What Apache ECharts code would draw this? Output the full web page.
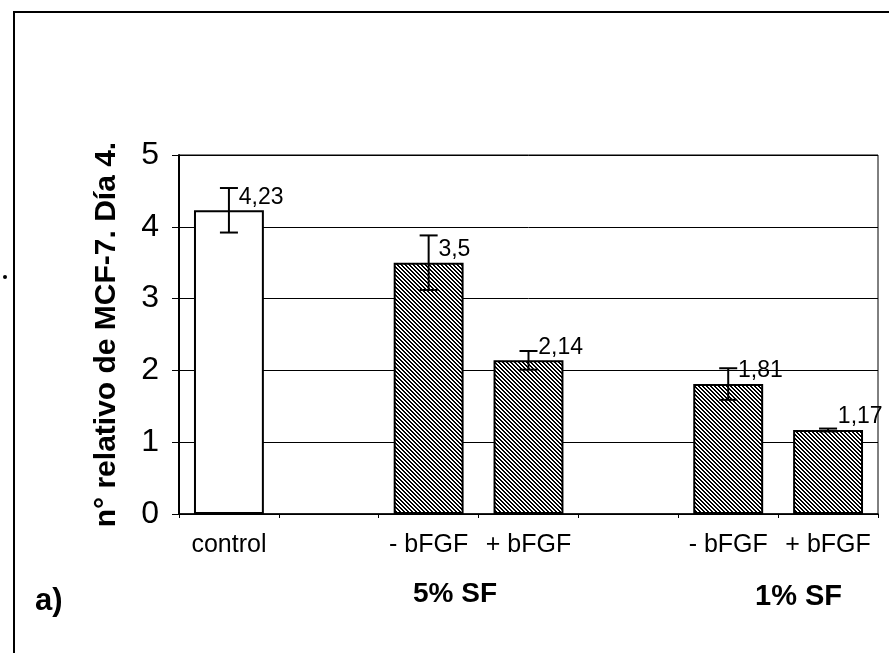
<!DOCTYPE html>
<html>
<head>
<meta charset="utf-8">
<script src="https://cdn.jsdelivr.net/npm/echarts@6/dist/echarts.min.js"></script>
<style>
html,body{margin:0;padding:0;background:#fff;}
#chart{width:889px;height:653px;}
</style>
</head>
<body>
<div id="chart"></div>
<script>
const categories = ['control', '', '- bFGF', '+ bFGF', '', '- bFGF', '+ bFGF'];
const values = [4.23, null, 3.5, 2.14, null, 1.81, 1.17];
const errors = [0.31, null, 0.38, 0.13, null, 0.22, 0.02];
const yTicks = [0, 1, 2, 3, 4, 5];
const groupLabels = ['5% SF', '1% SF'];
const panelLabel = 'a)';
const yTitle = 'n° relativo de MCF-7. Día 4.';

const FONT = '"Liberation Sans", Arial, sans-serif';

// diagonal hatch pattern
const pat = document.createElement('canvas');
pat.width = 4; pat.height = 4;
const pc = pat.getContext('2d');
pc.fillStyle = '#fff'; pc.fillRect(0, 0, 4, 4);
pc.fillStyle = '#000';
for (let y = 0; y < 4; y++) {
  for (let x = 0; x < 4; x++) {
    const d = ((x - y) % 4 + 4) % 4;
    if (d === 0 || d === 1) pc.fillRect(x, y, 1, 1);
  }
}
const hatch = { image: pat, repeat: 'repeat' };

const barData = values.map((v, i) => ({
  value: v,
  itemStyle: { color: i === 0 ? '#fff' : hatch, borderColor: '#000', borderWidth: 2 }
}));

const errData = [];
values.forEach((v, i) => { if (v !== null) errData.push([i, v, errors[i]]); });

const chart = echarts.init(document.getElementById('chart'));
chart.setOption({
  animation: false,
  backgroundColor: '#fff',
  grid: { left: 179, right: 11, top: 155, bottom: 139, show: true, borderColor: '#000', borderWidth: 1, backgroundColor: 'transparent' },
  xAxis: {
    type: 'category',
    data: categories,
    boundaryGap: true,
    axisLine: { lineStyle: { color: '#000', width: 1.5 } },
    axisTick: { show: true, length: 4, lineStyle: { color: '#000', width: 1 } },
    axisLabel: { color: '#000', fontFamily: FONT, fontSize: 25, margin: 19, interval: 0 }
  },
  yAxis: {
    type: 'value',
    min: yTicks[0],
    max: yTicks[yTicks.length - 1],
    interval: 1,
    name: yTitle,
    nameLocation: 'middle',
    nameGap: 57,
    nameTextStyle: { color: '#000', fontFamily: FONT, fontSize: 30, fontWeight: 'bold' },
    axisLine: { show: true, lineStyle: { color: '#000', width: 2 } },
    axisTick: { show: true, length: 7, lineStyle: { color: '#000', width: 1 } },
    axisLabel: { color: '#000', fontFamily: FONT, fontSize: 32, margin: 20 },
    splitLine: { show: true, lineStyle: { color: '#000', width: 1 } }
  },
  series: [
    {
      type: 'bar',
      data: barData,
      barWidth: '70%',
      label: {
        show: true,
        position: ['64%', -13],
        align: 'left',
        verticalAlign: 'middle',
        color: '#000',
        fontFamily: FONT,
        fontSize: 23,
        formatter: p => String(p.value).replace('.', ',')
      },
      z: 2
    },
    {
      type: 'custom',
      data: errData,
      z: 3,
      renderItem: function (params, api) {
        const x = api.value(0), v = api.value(1), e = api.value(2);
        const top = api.coord([x, v + e]);
        const bot = api.coord([x, v - e]);
        const h = 9;
        const st = { stroke: '#000', lineWidth: 2 };
        return {
          type: 'group',
          children: [
            { type: 'line', shape: { x1: top[0], y1: top[1], x2: bot[0], y2: bot[1] }, style: st },
            { type: 'line', shape: { x1: top[0] - h, y1: top[1], x2: top[0] + h, y2: top[1] }, style: st },
            { type: 'line', shape: { x1: bot[0] - h, y1: bot[1], x2: bot[0] + h, y2: bot[1] }, style: st }
          ]
        };
      }
    }
  ],
  graphic: [
    { type: 'rect', shape: { x: 14, y: 12, width: 900, height: 700 }, style: { fill: 'none', stroke: '#000', lineWidth: 2 }, silent: true },
    { type: 'circle', shape: { cx: 5, cy: 277, r: 2 }, style: { fill: '#000' }, silent: true },
    { type: 'text', left: 413, top: 580, style: { text: groupLabels[0], font: 'bold 28px ' + FONT, fill: '#000' } },
    { type: 'text', left: 755, top: 582, style: { text: groupLabels[1], font: 'bold 29px ' + FONT, fill: '#000' } },
    { type: 'text', left: 35, top: 586, style: { text: panelLabel, font: 'bold 31px ' + FONT, fill: '#000' } }
  ]
});
</script>
</body>
</html>
